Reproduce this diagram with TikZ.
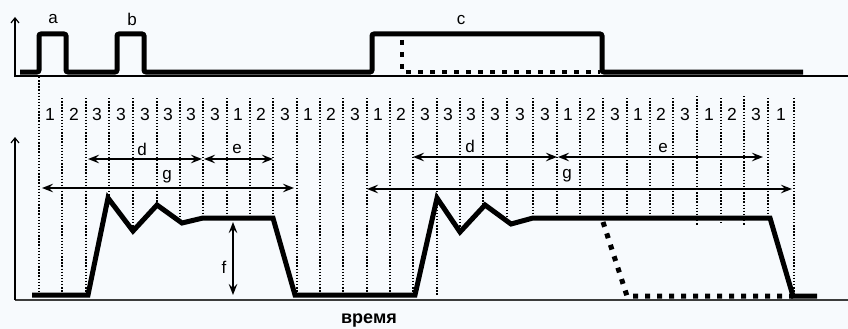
\documentclass[tikz,border=0pt]{standalone}
\usepackage{fontspec}
\setmainfont{Liberation Sans}
\usetikzlibrary{arrows.meta}
\definecolor{paper}{RGB}{247,250,253}
\definecolor{axisgray}{RGB}{60,60,60}
\tikzset{
  grid/.style={line width=1.3pt, dash pattern=on 1.4pt off 1.7pt, black},
  signal/.style={line width=5pt, black, line cap=butt},
  ghost/.style={line width=5pt, black, dash pattern=on 5pt off 7pt},
  axis/.style={line width=1.5pt, axisgray},
  yaxis/.style={line width=1.4pt, black, -{Straight Barb[length=5pt,width=8pt,line width=1.2pt]}},
  span/.style={line width=1.9pt, black, {Stealth[length=11pt,width=8.5pt,inset=4pt]}-{Stealth[length=11pt,width=8.5pt,inset=4pt]}},
  digit/.style={font=\fontsize{17.5}{17.5}\selectfont, inner sep=0pt},
  letter/.style={font=\fontsize{17}{17}\selectfont, inner sep=0pt},
}
\begin{document}
\begin{tikzpicture}[x=1pt, y=-1pt]
  % canvas
  \fill[paper] (0,0) rectangle (848,329);
  \useasboundingbox (0,0) rectangle (848,329);

  % ---------- upper trace: control pulses ----------
  \coordinate (ua0) at (15,77);
  \coordinate (ua1) at (15,17);
  \coordinate (ux0) at (15,76);
  \coordinate (ux1) at (848,76);
  \draw[axis, line width=1.4pt, black] (ux0) -- (ux1);
  \draw[yaxis] (ua0) -- (ua1);

  \draw[signal, rounded corners=2pt]
    (20,72) -- (39,72) -- (39,34) -- (66,34) -- (66,72) -- (117,72)
    -- (117,34) -- (144,34) -- (144,72) -- (372,72) -- (372,34)
    -- (602,34) -- (602,72) -- (803,72);
  \draw[ghost, line width=4.5pt] (402,40) -- (402,72) -- (600,72);

  \node[letter] (la) at (53,19) {a};
  \node[letter] (lb) at (132,19) {b};
  \node[letter] (lc) at (461,20) {c};

  % ---------- time grid ----------
  \foreach \x/\t/\b in {39/77/295, 62/98/295, 86/98/295, 109/98/200,
      133/98/231, 157/98/205, 180/98/222, 203/98/218, 227/98/218,
      250/98/218, 273/98/218, 297/98/296, 320/98/296, 343/98/296,
      367/98/296, 390/98/296, 413/98/296, 437/98/296, 460/98/232,
      483/98/205, 507/98/222, 533/98/218, 557/98/218, 580/98/218,
      603/98/218, 627/98/218, 650/98/218, 673/98/218, 697/96/225,
      721/98/225, 744/96/225, 768/98/218, 794/98/296}
    \draw[grid] (\x,\t) -- (\x,\b);

  \foreach \x/\n [count=\i] in {50/1, 74/2, 97/3, 121/3, 145/3, 168/3,
      191/3, 215/3, 238/1, 261/2, 285/3, 308/1, 331/2, 355/3, 378/1,
      401/2, 425/3, 448/3, 471/3, 495/3, 520/3, 545/3, 568/1, 591/2,
      615/3, 638/1, 661/2, 685/3, 709/1, 732/2, 756/3, 781/1}
    \node[digit] (n\i) at (\x,114) {\n};

  % ---------- lower trace: response ----------
  \coordinate (la0) at (15,300);
  \coordinate (la1) at (15,137);
  \coordinate (lx0) at (15,300);
  \coordinate (lx1) at (848,300);
  \draw[axis] (lx0) -- (lx1);
  \draw[yaxis] (la0) -- (la1);

  \draw[signal, line join=miter]
    (32,295) -- (88,295) -- (108,198) -- (133,231) -- (157,205)
    -- (182,223) -- (203,218) -- (273,218) -- (295,295) -- (415,295)
    -- (437,198) -- (460,232) -- (485,205) -- (511,224) -- (533,218)
    -- (770,218) -- (793,296) -- (817,296);
  \draw[ghost] (603,222) -- (627,296) -- (793,296);

  % ---------- interval markers ----------
  \coordinate (d1a) at (88,159);  \coordinate (d1b) at (202,159);
  \coordinate (e1a) at (204,159); \coordinate (e1b) at (273,159);
  \coordinate (g1a) at (42,188);  \coordinate (g1b) at (294,188);
  \coordinate (d2a) at (413,157); \coordinate (d2b) at (557,157);
  \coordinate (e2a) at (558,157); \coordinate (e2b) at (763,157);
  \coordinate (g2a) at (367,189); \coordinate (g2b) at (792,189);
  \coordinate (fa)  at (233,222); \coordinate (fb)  at (233,295);

  \draw[span] (d1a) -- (d1b);
  \draw[span] (e1a) -- (e1b);
  \draw[span] (g1a) -- (g1b);
  \draw[span] (d2a) -- (d2b);
  \draw[span] (e2a) -- (e2b);
  \draw[span] (g2a) -- (g2b);
  \draw[span] (fa) -- (fb);

  \node[letter] (ld1) at (142,149) {d};
  \node[letter] (le1) at (237,149) {e};
  \node[letter] (lg1) at (167,177) {g};
  \node[letter] (ld2) at (470,146) {d};
  \node[letter] (le2) at (663,148) {e};
  \node[letter] (lg2) at (567,176) {g};
  \node[letter] (lf)  at (224,267) {f};

  \node[font=\fontsize{18}{18}\selectfont\bfseries, inner sep=0pt] (time) at (369,321) {время};
\end{tikzpicture}
\end{document}
